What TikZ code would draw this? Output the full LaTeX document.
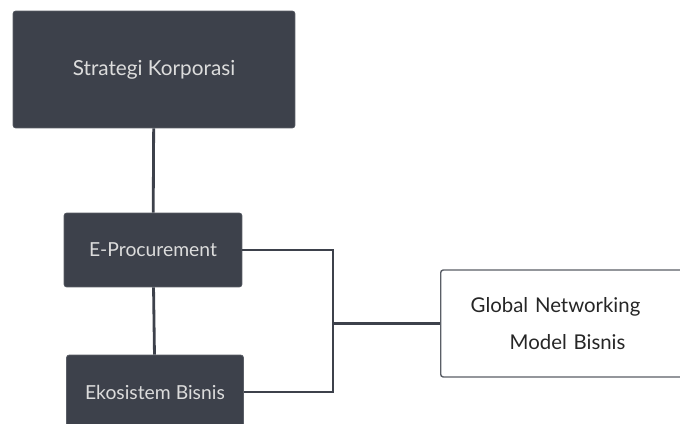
\documentclass[tikz,border=0pt]{standalone}
\usepackage{fontspec}
\setmainfont{Lato}
\usepackage{tikz}
\usetikzlibrary{positioning}
\usepackage{xcolor}
\definecolor{boxdark}{HTML}{3D414B}
\definecolor{boxtext}{HTML}{DCDCDC}

\begin{document}
\begin{tikzpicture}[x=0.02cm,y=-0.02cm,
    unit/.style={draw=boxdark!85!white,fill=boxdark,text=boxtext,rounded corners=1.5pt,
      font=\fontsize{11}{14}\selectfont},
    model/.style={draw=boxdark!85!white,fill=white,text=black!85,rounded corners=1.5pt,line width=0.8pt,
      font=\fontsize{11.6}{21}\selectfont},
    link/.style={draw=boxdark,line width=1.6pt}]
      \clip (0,0) rectangle (680,423);

      \node[unit,minimum width=5.64cm,minimum height=2.34cm,font=\fontsize{11.8}{14}\selectfont] (strategy)
        at (154,69.5) {Strategi Korporasi};
      \node[unit,minimum width=3.56cm,minimum height=1.48cm] (e procurement) at (153,250) {E-Procurement};
      \node[unit,minimum width=3.54cm,minimum height=1.48cm] (ecosystem) at (155,392) {Ekosistem Bisnis};
      \node[model,anchor=west,text width=5cm,align=left,inner xsep=0.6cm,minimum height=2.14cm] (global)
        at (440,323.5) {Global Networking\\\hspace*{0.78cm}Model Bisnis};

      \coordinate (join) at (333,323.5);
      \draw[link] (strategy) -- (e procurement);
      \draw[link] (e procurement) -- (ecosystem);
      \draw[link] (e procurement.east) -| (join) |- (ecosystem.east);
      \draw[link] (join) -- (global.west);
    \end{tikzpicture}
\end{document}
